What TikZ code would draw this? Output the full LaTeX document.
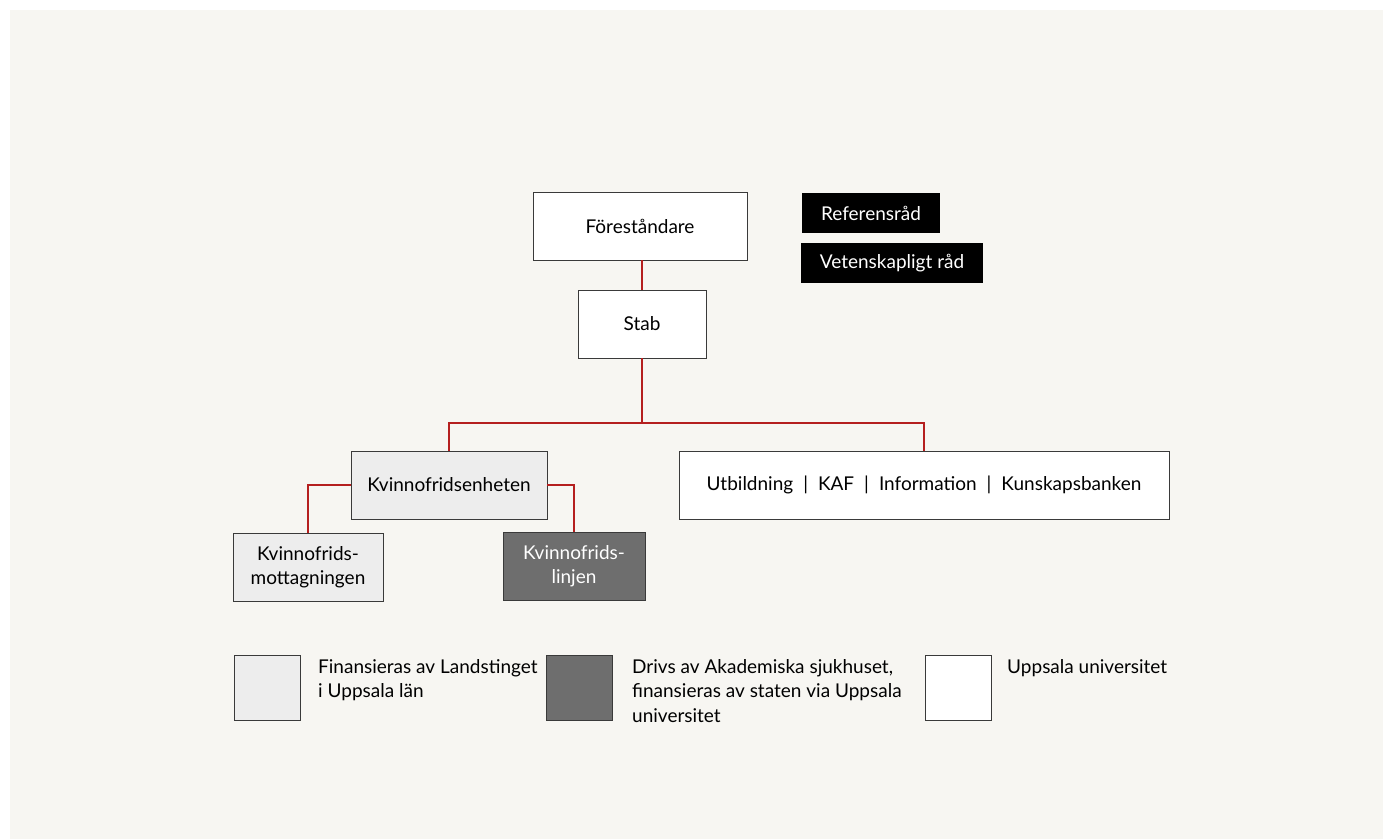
\documentclass[tikz,border=0pt]{standalone}
\usepackage{fontspec}
\setmainfont{Lato}
\definecolor{bgcol}{HTML}{F7F6F2}
\definecolor{linecol}{HTML}{B51F1F}
\definecolor{lightcol}{HTML}{EDEDED}
\definecolor{darkcol}{HTML}{6E6E6E}
\definecolor{framecol}{HTML}{3A3A3A}
\newcommand{\sep}{\hspace{10pt}|\hspace{10pt}}

\begin{document}
\begin{tikzpicture}[x=1pt, y=-1pt,
  every node/.style = {font=\fontsize{19}{24.5}\selectfont, align=center, inner sep=0pt},
  unit/.style = {draw=framecol, line width=0.9pt, fill=white, minimum height=68pt},
  light/.style = {unit, fill=lightcol},
  dark/.style = {unit, fill=darkcol, text=white},
  board/.style = {fill=black, text=white, minimum height=40pt},
  key/.style = {unit, minimum width=66pt, minimum height=65pt},
  keytext/.style = {anchor=north west, align=left},
  link/.style = {draw=linecol, line width=1.6pt}]
  \useasboundingbox (0,0) rectangle (1383,839);
  \fill[bgcol] (10,10) rectangle (1383,839);

  % organisation
  \node[unit, minimum width=214pt] (chief) at (640,226) {Föreståndare};
  \node[unit, minimum width=128pt] (staff) at (642,324) {Stab};
  \node[board, minimum width=138pt] (refs) at (871,213) {Referensråd};
  \node[board, minimum width=182pt] (sci) at (892,263) {Vetenskapligt råd};
  \node[light, minimum width=196pt] (unitkvf) at (449,485) {Kvinnofridsenheten};
  \node[unit, minimum width=490pt] (edu) at (924,485)
    {Utbildning\sep KAF\sep Information\sep Kunskapsbanken};
  \node[light, minimum width=150pt] (clinic) at (308,567) {Kvinnofrids-\\mottagningen};
  \node[dark, minimum width=142pt] (phone) at (574,566) {Kvinnofrids-\\linjen};
  \coordinate (bus) at (642,423);

  \draw[link] (chief.south -| staff.north) -- (staff.north);
  \draw[link] (staff) -- (bus) -| (unitkvf);
  \draw[link] (bus) -| (edu);
  \draw[link] (unitkvf.west) -| (clinic);
  \draw[link] (unitkvf.east) -| (phone);

  % legend
  \node[key, fill=lightcol] (keylight) at (267,687.5) {};
  \node[keytext] (txtlight) at (318,659) {Finansieras av Landstinget\\i Uppsala län};
  \node[key, fill=darkcol] (keydark) at (579,687.5) {};
  \node[keytext] (txtdark) at (632,659)
    {Drivs av Akademiska sjukhuset,\\finansieras av staten via Uppsala\\universitet};
  \node[key] (keyuni) at (958,687.5) {};
  \node[keytext] (txtuni) at (1007,659) {Uppsala universitet};
\end{tikzpicture}
\end{document}
